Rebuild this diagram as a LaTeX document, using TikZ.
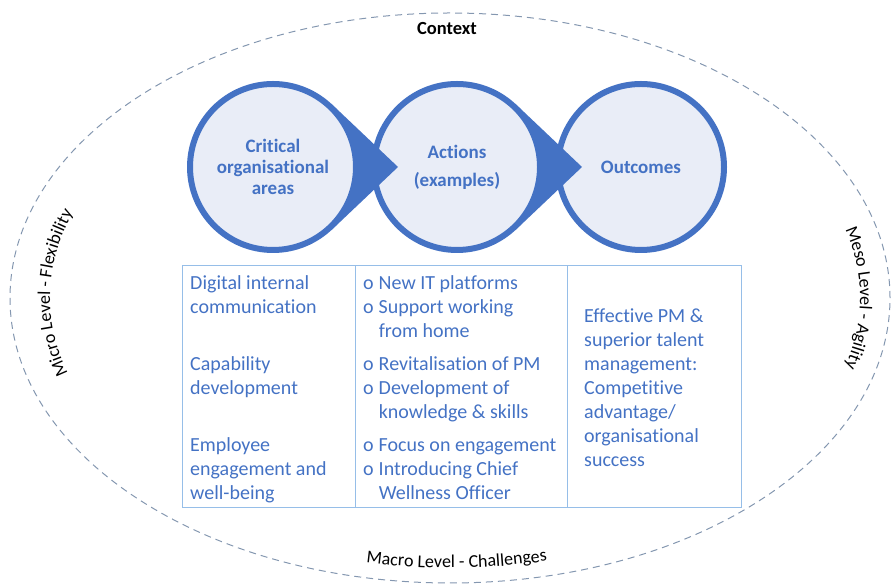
\documentclass[tikz,border=0pt]{standalone}
\usepackage{fontspec}
\setmainfont[Ligatures={NoCommon,NoContextual}]{Carlito}
\usetikzlibrary{decorations.text}
\definecolor{accent}{RGB}{68,114,196}
\definecolor{circfill}{RGB}{233,237,247}
\definecolor{gridline}{RGB}{150,190,232}
\definecolor{ringline}{RGB}{132,151,176}
\begin{document}
\begin{tikzpicture}[x=1pt,y=1pt,
  stage/.style={circle,draw=accent,line width=6pt,fill=circfill,minimum size=166pt,
    inner sep=0pt,text=accent,font=\bfseries\fontsize{19}{21}\selectfont,align=center},
  wedge/.style={fill=accent},
  cell/.style={anchor=base west,inner sep=0pt,text=accent,font=\fontsize{20}{24}\selectfont},
  grid/.style={draw=gridline,line width=1pt},
  ring/.style={draw=ringline,line width=1pt,dash pattern=on 7pt off 5pt},
  levellabel/.style={decorate,decoration={text along path,text align=center,text color=black,
    text={|\fontsize{18}{21}\selectfont|#1}}}]
\useasboundingbox (0,0) rectangle (891,585);

% outer context ring
\draw[ring] (450,287) ellipse [x radius=440, y radius=285];
\node[font=\bfseries\fontsize{18.5}{22}\selectfont] (context) at (447,556) {Context};

% curved level labels
\path[levellabel={Micro Level - Flexibility}]
  (450,287) ++(214:400 and 255) arc[start angle=214,end angle=144,x radius=400,y radius=255];
\path[levellabel={Meso Level - Agility}]
  (450,287) ++(36:410 and 258) arc[start angle=36,end angle=-36,x radius=410,y radius=258];
\path[levellabel={Macro Level - Challenges}]
  (450,287) ++(236:425 and 270) arc[start angle=236,end angle=306,x radius=425,y radius=270];

% stage centres and arrow tips
\coordinate (p1) at (273,418);
\coordinate (p2) at (457,418);
\coordinate (p3) at (641,418);
\coordinate (t1) at (398,418);
\coordinate (t2) at (582,418);

% stages, drawn right to left so each pointer overlaps the next circle
\node[stage] (c3) at (p3) {Outcomes};
\fill[wedge] (p2) -- ([shift={(46.5:86)}]p2) -- (t2) -- ([shift={(-46.5:86)}]p2) -- cycle;
\node[stage] (c2) at (p2) {Actions\\[7pt](examples)};
\fill[wedge] (p1) -- ([shift={(46.5:86)}]p1) -- (t1) -- ([shift={(-46.5:86)}]p1) -- cycle;
\node[stage] (c1) at (p1) {Critical\\organisational\\areas};

% table frame
\draw[grid] (182,77) rectangle (741,319);
\draw[grid] (355,77) -- (355,319);
\draw[grid] (567,77) -- (567,319);

% column 1: areas
\node[cell] (a1) at (190,295) {\begin{tabular}[t]{@{}l@{}}Digital internal\\communication\end{tabular}};
\node[cell] (a2) at (190,214) {\begin{tabular}[t]{@{}l@{}}Capability\\development\end{tabular}};
\node[cell] (a3) at (190,133) {\begin{tabular}[t]{@{}l@{}}Employee\\engagement and\\well-being\end{tabular}};

% column 2: actions
\node[cell] (b1) at (363,295) {\begin{tabular}[t]{@{}l@{\hspace{5pt}}l@{}}o&New IT platforms\\o&Support working\\&from home\end{tabular}};
\node[cell] (b2) at (363,214) {\begin{tabular}[t]{@{}l@{\hspace{5pt}}l@{}}o&Revitalisation of PM\\o&Development of\\&knowledge \& skills\end{tabular}};
\node[cell] (b3) at (363,133) {\begin{tabular}[t]{@{}l@{\hspace{5pt}}l@{}}o&Focus on engagement\\o&Introducing Chief\\&Wellness Officer\end{tabular}};

% column 3: outcomes
\node[cell] (o1) at (584,262) {\begin{tabular}[t]{@{}l@{}}Effective PM \&\\superior talent\\management:\\Competitive\\advantage/\\organisational\\success\end{tabular}};
\end{tikzpicture}
\end{document}
